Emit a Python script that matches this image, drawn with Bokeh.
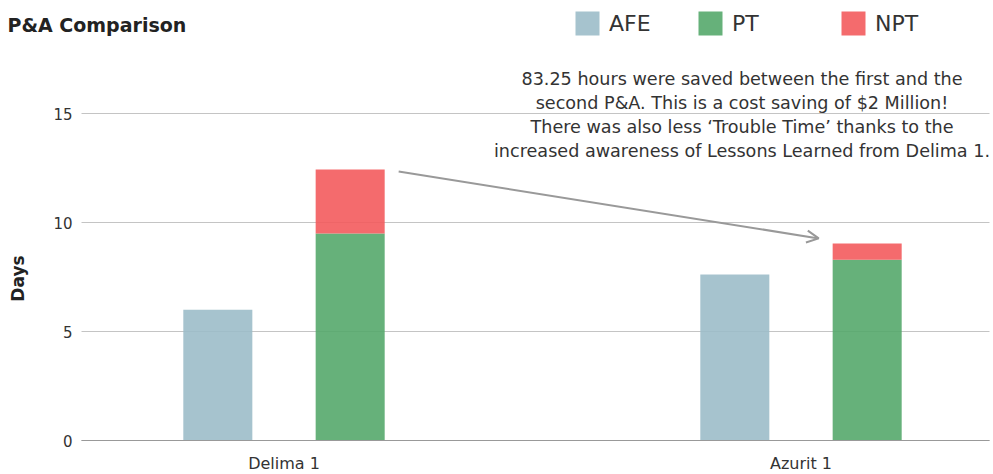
import math
from bokeh.plotting import figure
from bokeh.models import (ColumnDataSource, FixedTicker, Label, LabelSet, Legend,
                          LegendItem, Arrow, OpenHead, Range1d)
from bokeh.core.properties import value
from bokeh.embed import file_html
from bokeh.resources import INLINE

# ---- data ----
wells = ["Delima 1", "Azurit 1"]
afe = [6.0, 7.62]
pt = [9.5, 8.29]
npt = [2.93, 0.75]
y_ticks = [0, 5, 10, 15]
series = ["AFE", "PT", "NPT"]
colors = ["#9cbcc9", "#55a96c", "#f35b5d"]
title_text = "P&A Comparison"
y_label = "Days"
note_lines = [
    "83.25 hours were saved between the first and the",
    "second P&A. This is a cost saving of $2 Million!",
    "There was also less \u2018Trouble Time\u2019 thanks to the",
    "increased awareness of Lessons Learned from Delima 1.",
]

FONT = "DejaVu Sans"
TXT = "#333333"
BAR_W = 0.1335
OFF = 0.128
PX_PER_X = 517.0
X0_PX = 283.5
PX_PER_Y = 21.8

W, H = 992, 473
Y0_PX = 440  # pixel row of y = 0


def xd(px):
    return (px - X0_PX) / PX_PER_X


def sy(py):
    # screen units are measured upward from the frame bottom (= figure bottom)
    return H - py


xs = list(range(len(wells)))
src = ColumnDataSource(dict(
    x_afe=[i - OFF for i in xs],
    x_pt=[i + OFF for i in xs],
    afe=afe, pt=pt, npt=npt,
))

p = figure(width=W, height=H,
           x_range=Range1d(xd(0), xd(W)),
           y_range=Range1d(-(H - Y0_PX) / PX_PER_Y, Y0_PX / PX_PER_Y),
           output_backend="svg", toolbar_location=None,
           min_border_left=0, min_border_right=0, min_border_top=0,
           min_border_bottom=0)
p.outline_line_color = None
p.background_fill_color = "white"

r_afe = p.vbar(x="x_afe", top="afe", width=BAR_W, source=src,
               fill_color=colors[0], fill_alpha=0.9, line_color=None)
r_pt, r_npt = p.vbar_stack(["pt", "npt"], x="x_pt", width=BAR_W, source=src,
                           fill_color=colors[1:], fill_alpha=0.9, line_color=None)

# x axis, drawn at y = 0 inside the frame
p.xaxis.fixed_location = 0
p.xaxis.ticker = FixedTicker(ticks=xs)
p.xaxis.major_label_overrides = {i: w for i, w in zip(xs, wells)}
p.xaxis.bounds = (xd(81), xd(989))
p.xaxis.axis_line_color = "#999999"
p.xaxis.axis_line_width = 1
p.xaxis.major_tick_line_color = None
p.xaxis.minor_tick_line_color = None
p.xaxis.major_label_standoff = 7
p.xaxis.major_label_text_font = FONT
p.xaxis.major_label_text_font_size = "16px"
p.xaxis.major_label_text_color = TXT

# y axis: hidden, labels drawn at the tick values through the y scale
p.yaxis.visible = False
p.xgrid.grid_line_color = None
p.ygrid.ticker = FixedTicker(ticks=y_ticks)
p.ygrid.cross_bounds = (xd(81), xd(989))
p.ygrid.grid_line_color = "#c4c4c4"
p.ygrid.grid_line_width = 1

tick_src = ColumnDataSource(dict(y=y_ticks, text=[str(t) for t in y_ticks]))
p.add_layout(LabelSet(x=72, y="y", text="text", source=tick_src, x_units="screen",
                      text_font=value(FONT), text_font_size=value("15px"),
                      text_color=TXT, text_align="right", text_baseline="middle"))

# legends (one per item to reproduce the irregular spacing)
for name, rend, lx in zip(series, [r_afe, r_pt, r_npt], [575, 698, 841]):
    lg = Legend(items=[LegendItem(label=name, renderers=[rend])],
                location=(lx - 3, sy(35 + 3)), orientation="horizontal",
                glyph_width=30, glyph_height=30, label_height=30,
                label_standoff=7, padding=0, margin=0, spacing=0,
                border_line_color=None, background_fill_alpha=0,
                label_text_font=FONT, label_text_font_size="22px",
                label_text_color=TXT, label_text_baseline="middle")
    p.add_layout(lg, "center")

# title
p.add_layout(Label(x=7, y=sy(24), x_units="screen", y_units="screen",
                   text=title_text, text_font=FONT, text_font_size="19px",
                   text_font_style="bold", text_color="#222222",
                   text_baseline="middle", text_align="left"))
# y label
p.add_layout(Label(x=17, y=sy(278), x_units="screen", y_units="screen",
                   text=y_label, angle=math.pi / 2, text_font=FONT,
                   text_font_size="17px", text_font_style="bold",
                   text_color="#222222", text_baseline="middle", text_align="center"))

# note
for k, line in enumerate(note_lines):
    p.add_layout(Label(x=741.5, y=sy(78 + 24 * k), x_units="screen", y_units="screen",
                       text=line, text_font=FONT, text_font_size="17.6px",
                       text_color=TXT, text_baseline="middle", text_align="center"))

# arrow from Delima stacked bar top to Azurit stacked bar top
d_tot = pt[0] + npt[0]
a_tot = pt[1] + npt[1]
arrow = Arrow(end=OpenHead(size=12, line_color="#999999", line_width=2),
              x_start=xs[0] + OFF + BAR_W / 2 + 0.027, y_start=d_tot - 0.09,
              x_end=xs[1] + OFF - BAR_W / 2 - 0.027, y_end=a_tot + 0.23,
              line_color="#999999", line_width=2)
p.add_layout(arrow)

open("out.html", "w").write(file_html(p, INLINE))
